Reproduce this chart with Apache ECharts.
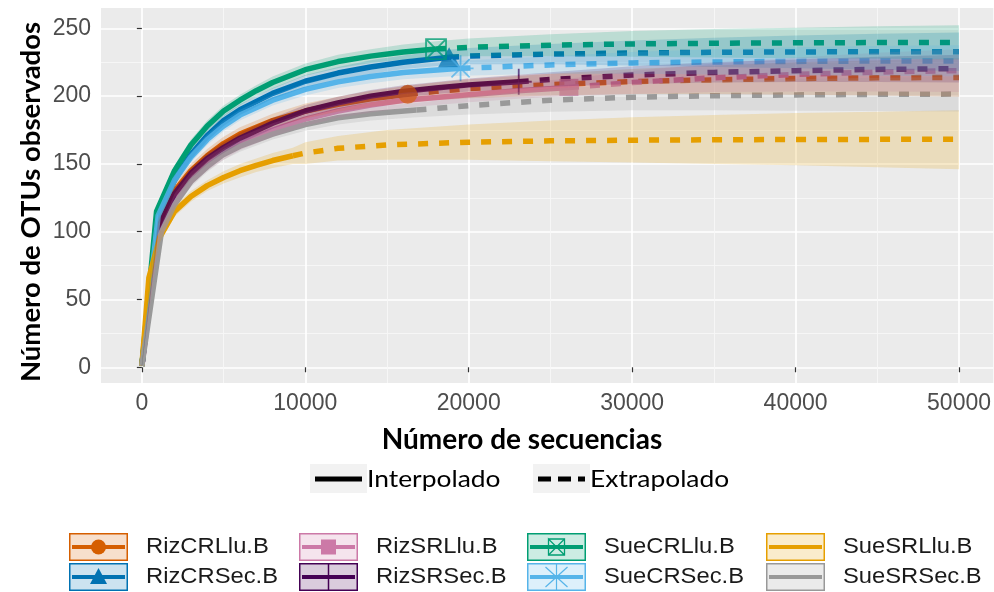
<!DOCTYPE html>
<html><head><meta charset="utf-8">
<script src="https://cdn.jsdelivr.net/npm/echarts@6/dist/echarts.min.js"></script>
<style>html,body{margin:0;padding:0;background:#fff}#c{width:994px;height:592px}</style>
</head><body><div id="c"></div>
<script>
// ---- tick values ----
const xMajorTicks = [0, 10000, 20000, 30000, 40000, 50000];
const xMinorTicks = [5000, 15000, 25000, 35000, 45000];
const yMajorTicks = [0, 50, 100, 150, 200, 250];
const yMinorTicks = [25, 75, 125, 175, 225];

// ---- RizCRLlu.B ----
const RizCRLlu_x  = [0, 1000, 2000, 3000, 4000, 5000, 6000, 8000, 10000, 12000, 14000, 16270];
const RizCRLlu_y  = [1, 105, 130, 145, 156, 165, 172, 182, 189, 194, 198, 201.3];
const RizCRLlu_ex = [16270, 18000, 20000, 25000, 30000, 35000, 40000, 45000, 50000];
const RizCRLlu_ey = [201.3, 203.5, 205.5, 208.5, 210.7, 212, 213, 213.5, 213.8];
const RizCRLlu_lo = [0, 100, 125, 140, 151, 160, 167, 177, 183.5, 188.5, 192, 195, 197, 198.5, 200.5, 201.5, 201.5, 201, 200.5, 199.5];
const RizCRLlu_hi = [2, 110, 135, 150, 161, 170, 177, 187, 194.5, 199.5, 204, 207.6, 210, 212.5, 216.5, 220, 222.5, 225, 226.5, 228];

// ---- RizCRSec.B ----
const RizCRSec_x  = [0, 1000, 2000, 3000, 4000, 5000, 6000, 8000, 10000, 12000, 14000, 16000, 18800];
const RizCRSec_y  = [1, 110, 138, 157, 171, 182, 190, 202, 211, 217, 221.5, 225, 228.6];
const RizCRSec_ex = [18800, 20000, 25000, 30000, 35000, 40000, 45000, 50000];
const RizCRSec_ey = [228.6, 229.5, 231, 231.8, 232.3, 232.6, 232.7, 232.8];
const RizCRSec_lo = [0, 106, 134, 153, 167, 178, 186, 198, 206.5, 212.5, 216.5, 220, 223, 223.5, 223.5, 222.5, 221.5, 220.5, 219.5, 218.5];
const RizCRSec_hi = [2, 114, 142, 161, 175, 186, 194, 206, 215.5, 221.5, 226.5, 230, 234.2, 235.5, 238.5, 241, 243, 244.7, 246, 247];

// ---- RizSRLlu.B ----
const RizSRLlu_x  = [0, 1000, 2000, 3000, 4000, 5000, 6000, 8000, 10000, 12000, 14000, 16000, 18000, 20000, 23000, 26130];
const RizSRLlu_y  = [1, 95, 123, 139, 150, 158, 165, 175, 183, 189, 193.5, 197, 199, 201, 204, 206.4];
const RizSRLlu_ex = [26130, 30000, 35000, 40000, 45000, 50000];
const RizSRLlu_ey = [206.4, 210, 213.5, 216, 217.8, 218.8];
const RizSRLlu_lo = [0, 90, 118, 134, 145, 153, 160, 170, 178, 184, 188, 191.5, 193.5, 195.5, 198, 200, 201.5, 203, 203.5, 203.5, 203];
const RizSRLlu_hi = [2, 100, 128, 144, 155, 163, 170, 180, 188, 194, 199, 202.5, 204.5, 206.5, 210, 212.8, 218.5, 224, 228.5, 232, 234.5];

// ---- RizSRSec.B ----
const RizSRSec_x  = [0, 1000, 2000, 3000, 4000, 5000, 6000, 8000, 10000, 12000, 14000, 16000, 18000, 20000, 23060];
const RizSRSec_y  = [1, 103, 128, 143, 154, 162, 169, 180, 189, 195, 200, 203.5, 206, 208.3, 210.6];
const RizSRSec_ex = [23060, 25000, 30000, 35000, 40000, 45000, 50000];
const RizSRSec_ey = [210.6, 212.3, 215.5, 217.5, 218.8, 219.7, 220.3];
const RizSRSec_lo = [0, 99, 124, 139, 150, 158, 165, 176, 184.5, 190.5, 195.5, 199, 201.5, 203.5, 205.5, 207, 209, 210, 210.5, 210.5, 210];
const RizSRSec_hi = [2, 107, 132, 147, 158, 166, 173, 184, 193.5, 199.5, 204.5, 208, 210.5, 213, 215.7, 217.6, 222, 225, 227, 229, 230.6];

// ---- SueCRLlu.B ----
const SueCRLlu_x  = [0, 900, 2000, 3000, 4000, 5000, 6000, 7000, 8000, 10000, 12000, 14000, 16000, 18000];
const SueCRLlu_y  = [1, 115, 145, 164, 178, 189, 197, 204, 210, 219.5, 225.5, 229.5, 232.5, 234.7];
const SueCRLlu_ex = [18000, 20000, 25000, 30000, 35000, 40000, 45000, 50000];
const SueCRLlu_ey = [234.7, 236, 237.6, 238.5, 239, 239.3, 239.5, 239.6];
const SueCRLlu_lo = [0, 111, 141, 160, 174, 185, 193, 200, 205.5, 215, 220.5, 224.5, 227, 229, 229.5, 229.5, 229, 228.5, 228, 227.5, 227];
const SueCRLlu_hi = [2, 119, 149, 168, 182, 193, 201, 208, 214.5, 224, 230.5, 234.5, 238, 240.5, 242.5, 245.7, 248, 249.5, 250.5, 251.5, 252.2];

// ---- SueCRSec.B ----
const SueCRSec_x  = [0, 1000, 2000, 3000, 4000, 5000, 6000, 8000, 10000, 12000, 14000, 16000, 19500];
const SueCRSec_y  = [1, 112, 138, 155, 168, 178, 186, 197, 205, 210.5, 214.5, 217.5, 220.5];
const SueCRSec_ex = [19500, 25000, 30000, 35000, 40000, 45000, 50000];
const SueCRSec_ey = [220.5, 223, 224.5, 225.2, 225.6, 225.9, 226];
const SueCRSec_lo = [0, 108, 134, 151, 164, 174, 182, 193, 200.5, 206, 209.5, 212.5, 215, 216.5, 216.5, 216, 215.5, 215, 214.5];
const SueCRSec_hi = [2, 116, 142, 159, 172, 182, 190, 201, 209.5, 215, 219.5, 222.5, 226, 229.5, 232.5, 234.5, 236, 237, 237.5];

// ---- SueSRLlu.B ----
const SueSRLlu_x  = [0, 430, 1100, 2000, 3000, 4000, 5000, 6000, 7000, 8000, 9240];
const SueSRLlu_y  = [1, 66, 96, 115, 126, 134, 140, 145, 149, 152.5, 156];
const SueSRLlu_ex = [9240, 10000, 12000, 15000, 20000, 25000, 30000, 35000, 40000, 45000, 50000];
const SueSRLlu_ey = [156, 158, 161.5, 164, 166, 167, 167.5, 167.8, 168, 168.1, 168.2];
const SueSRLlu_lo = [0, 62, 92, 111, 122, 130, 135.5, 140, 144, 147, 150, 150, 152.5, 153, 153, 152, 151, 150, 149, 147.5, 146];
const SueSRLlu_hi = [2, 70, 100, 119, 130, 138, 144.5, 150, 154, 158, 162, 166, 170.5, 175, 179, 182, 184.5, 186, 187.5, 188.5, 189.5];

// ---- SueSRSec.B ----
const SueSRSec_x  = [0, 1200, 2000, 3000, 4000, 5000, 6000, 8000, 10000, 12000, 14000, 16800];
const SueSRSec_y  = [1, 100, 120, 137, 148, 157, 163, 172, 179, 184, 187, 189.7];
const SueSRSec_ex = [16800, 20000, 25000, 30000, 35000, 40000, 45000, 50000];
const SueSRSec_ey = [189.7, 193, 197, 199.2, 200.3, 200.9, 201.3, 201.5];
const SueSRSec_lo = [0, 96, 116, 133, 144, 153, 159, 168, 174.5, 179, 182, 184.5, 186.5, 188.5, 189.5, 189.5, 189.3, 189, 188.7];
const SueSRSec_hi = [2, 104, 124, 141, 152, 161, 167, 176, 183.5, 189, 192, 195, 199.5, 205.5, 209, 211, 212.5, 213.5, 214.3];

const siteNames = ['RizCRLlu.B', 'RizCRSec.B', 'RizSRLlu.B', 'RizSRSec.B', 'SueCRLlu.B', 'SueCRSec.B', 'SueSRLlu.B', 'SueSRSec.B'];

// ---- styles ----
const PATH_PLUS = 'path://M10,0 L10,20 M0,10 L20,10';
const PATH_BOXX = 'path://M0,0 L20,0 L20,20 L0,20 Z M0,0 L20,20 M20,0 L0,20';
const PATH_AST  = 'path://M10,0 L10,20 M0,10 L20,10 M3,3 L17,17 M17,3 L3,17';

const groups = [
  {x: RizCRLlu_x, y: RizCRLlu_y, ex: RizCRLlu_ex, ey: RizCRLlu_ey, lo: RizCRLlu_lo, hi: RizCRLlu_hi, color: '#D55E00', symbol: 'circle', size: 19, filled: true},
  {x: RizCRSec_x, y: RizCRSec_y, ex: RizCRSec_ex, ey: RizCRSec_ey, lo: RizCRSec_lo, hi: RizCRSec_hi, color: '#0072B2', symbol: 'triangle', size: [22, 20], filled: true},
  {x: RizSRLlu_x, y: RizSRLlu_y, ex: RizSRLlu_ex, ey: RizSRLlu_ey, lo: RizSRLlu_lo, hi: RizSRLlu_hi, color: '#CC79A7', symbol: 'rect', size: [19, 17], filled: true},
  {x: RizSRSec_x, y: RizSRSec_y, ex: RizSRSec_ex, ey: RizSRSec_ey, lo: RizSRSec_lo, hi: RizSRSec_hi, color: '#440154', symbol: PATH_PLUS, size: 26, filled: false},
  {x: SueCRLlu_x, y: SueCRLlu_y, ex: SueCRLlu_ex, ey: SueCRLlu_ey, lo: SueCRLlu_lo, hi: SueCRLlu_hi, color: '#009E73', symbol: PATH_BOXX, size: 20, filled: false},
  {x: SueCRSec_x, y: SueCRSec_y, ex: SueCRSec_ex, ey: SueCRSec_ey, lo: SueCRSec_lo, hi: SueCRSec_hi, color: '#56B4E9', symbol: PATH_AST, size: 26, filled: false},
  {x: SueSRLlu_x, y: SueSRLlu_y, ex: SueSRLlu_ex, ey: SueSRLlu_ey, lo: SueSRLlu_lo, hi: SueSRLlu_hi, color: '#E69F00', symbol: 'none', size: 0, filled: true},
  {x: SueSRSec_x, y: SueSRSec_y, ex: SueSRSec_ex, ey: SueSRSec_ey, lo: SueSRSec_lo, hi: SueSRSec_hi, color: '#999999', symbol: 'none', size: 0, filled: true}
];

function hexA(hex, a) {
  const n = parseInt(hex.slice(1), 16);
  return 'rgba(' + (n >> 16 & 255) + ',' + (n >> 8 & 255) + ',' + (n & 255) + ',' + a + ')';
}
const zip = (a, b) => a.map((v, i) => [v, b[i]]);

const series = [];
groups.forEach((g, k) => {
  const name = siteNames[k];
  series.push({
    name: name, type: 'line', data: zip(g.x, g.y), showSymbol: false, symbol: 'none',
    lineStyle: {color: g.color, width: 5.5, type: 'solid'}, itemStyle: {color: g.color}, z: 2, silent: true
  });
  series.push({
    name: name, type: 'line', data: zip(g.ex, g.ey), showSymbol: false, symbol: 'none',
    lineStyle: {color: g.color, width: 5.5, type: [10, 11]}, itemStyle: {color: g.color}, z: 2, silent: true
  });
});
groups.forEach((g, k) => {
  if (g.symbol === 'none') return;
  const last = g.x.length - 1;
  series.push({
    name: siteNames[k], type: 'scatter', data: [[g.x[last], g.y[last]]],
    symbol: g.symbol, symbolSize: g.size, z: 3, silent: true,
    itemStyle: g.filled ? {color: g.color} : {color: 'rgba(0,0,0,0)', borderColor: g.color, borderWidth: 1.8}
  });
});
groups.forEach((g, k) => {
  const bx = g.x.concat(g.ex.slice(1));
  series.push({
    name: siteNames[k], type: 'custom', data: [[bx[0], g.lo[0]]], z: 4, silent: true, clip: true,
    renderItem: function (params, api) {
      const pts = [];
      for (let i = 0; i < bx.length; i++) pts.push(api.coord([bx[i], g.hi[i]]));
      for (let i = bx.length - 1; i >= 0; i--) pts.push(api.coord([bx[i], g.lo[i]]));
      return {type: 'polygon', shape: {points: pts}, style: {fill: hexA(g.color, 0.2), stroke: null}};
    }
  });
});

// ---- titles and legends (layout only) ----
const graphics = [];
const TXT = '#000';
graphics.push({type: 'text', x: 522, y: 440, style: {text: 'Número de secuencias', fontFamily: 'Lato', fontWeight: 'bold', fontSize: 28, fill: TXT, textAlign: 'center', textVerticalAlign: 'middle'}});
graphics.push({type: 'text', x: 31, y: 202, rotation: Math.PI / 2, style: {text: 'Número de OTUs observados', fontFamily: 'Lato', fontWeight: 'bold', fontSize: 27.5, fill: TXT, textAlign: 'center', textVerticalAlign: 'middle'}});
// line type legend
const ltKeys = [{x: 310, label: 'Interpolado', dash: 'solid'}, {x: 533, label: 'Extrapolado', dash: [13, 7]}];
ltKeys.forEach(k => {
  graphics.push({type: 'rect', shape: {x: k.x, y: 464, width: 57, height: 29}, style: {fill: '#F2F2F2'}});
  graphics.push({type: 'line', shape: {x1: k.x + 5, y1: 479, x2: k.x + 52, y2: 479}, style: {stroke: '#000', lineWidth: 5, lineDash: k.dash === 'solid' ? null : k.dash}});
  graphics.push({type: 'text', x: k.x + 57, y: 479, scaleX: 1.1, style: {text: k.label, fontFamily: 'Lato', fontSize: 24, fill: TXT, textVerticalAlign: 'middle'}});
});
// site legend
const colX = [69, 299, 527, 766];
const rowY = [533, 563];
groups.forEach((g, k) => {
  const col = Math.floor(k / 2), row = k % 2;
  const x = colX[col], y = rowY[row];
  const cx = x + 29.5, cy = y + 14;
  graphics.push({type: 'rect', shape: {x: x + 0.75, y: y + 0.75, width: 57.5, height: 26.5}, style: {fill: hexA(g.color, 0.2), stroke: g.color, lineWidth: 1.5}, z: 10});
  graphics.push({type: 'line', shape: {x1: x + 3, y1: cy, x2: x + 56, y2: cy}, style: {stroke: g.color, lineWidth: 4}, z: 11});
  if (g.symbol === 'circle') {
    graphics.push({type: 'circle', shape: {cx: cx, cy: cy, r: 7.5}, style: {fill: g.color}, z: 12});
  } else if (g.symbol === 'triangle') {
    graphics.push({type: 'polygon', shape: {points: [[cx, cy - 9], [cx + 8.5, cy + 7], [cx - 8.5, cy + 7]]}, style: {fill: g.color}, z: 12});
  } else if (g.symbol === 'rect') {
    graphics.push({type: 'rect', shape: {x: cx - 7.5, y: cy - 7.5, width: 15, height: 15}, style: {fill: g.color}, z: 12});
  } else if (g.symbol === PATH_PLUS) {
    graphics.push({type: 'line', shape: {x1: cx, y1: y + 1, x2: cx, y2: y + 27}, style: {stroke: g.color, lineWidth: 1.5}, z: 12});
  } else if (g.symbol === PATH_BOXX) {
    graphics.push({type: 'polyline', shape: {points: [[cx - 8, cy - 8], [cx + 8, cy - 8], [cx + 8, cy + 8], [cx - 8, cy + 8], [cx - 8, cy - 8], [cx + 8, cy + 8]]}, style: {stroke: g.color, lineWidth: 1.3, fill: null}, z: 12});
    graphics.push({type: 'line', shape: {x1: cx + 8, y1: cy - 8, x2: cx - 8, y2: cy + 8}, style: {stroke: g.color, lineWidth: 1.3}, z: 12});
  } else if (g.symbol === PATH_AST) {
    graphics.push({type: 'line', shape: {x1: cx, y1: y + 1, x2: cx, y2: y + 27}, style: {stroke: g.color, lineWidth: 1.2}, z: 12});
    graphics.push({type: 'line', shape: {x1: cx - 11, y1: cy - 10, x2: cx + 11, y2: cy + 10}, style: {stroke: g.color, lineWidth: 1.2}, z: 12});
    graphics.push({type: 'line', shape: {x1: cx + 11, y1: cy - 10, x2: cx - 11, y2: cy + 10}, style: {stroke: g.color, lineWidth: 1.2}, z: 12});
  }
  graphics.push({type: 'text', x: x + 77, y: cy, scaleX: 1.08, style: {text: siteNames[k], fontFamily: 'Liberation Sans', fontSize: 22, fill: '#1A1A1A', textVerticalAlign: 'middle'}, z: 12});
});

const tickLabel = {color: '#4D4D4D', fontSize: 23, fontFamily: 'Liberation Sans', formatter: v => String(v)};
const chart = echarts.init(document.getElementById('c'), null, {renderer: 'canvas'});
chart.setOption({
  animation: false,
  backgroundColor: '#fff',
  grid: {left: 101, top: 8, right: 0, bottom: 209, show: true, backgroundColor: '#EBEBEB', borderWidth: 0},
  xAxis: [
    {type: 'value', min: -2500, max: 52100, axisLine: {show: false},
     axisTick: {show: true, length: 5, lineStyle: {color: '#333', width: 1.2}, customValues: xMajorTicks},
     axisLabel: Object.assign({customValues: xMajorTicks, margin: 9}, tickLabel),
     splitLine: {show: true, lineStyle: {color: '#fff', width: 1.7}}},
    {type: 'value', min: -2500, max: 52100, axisLine: {show: false},
     axisTick: {show: false, customValues: xMinorTicks}, axisLabel: {show: false},
     splitLine: {show: true, lineStyle: {color: '#F7F7F7', width: 0.9}}}
  ],
  yAxis: [
    {type: 'value', min: -11.6, max: 265, axisLine: {show: false},
     axisTick: {show: true, length: 5, lineStyle: {color: '#333', width: 1.2}, customValues: yMajorTicks},
     axisLabel: Object.assign({customValues: yMajorTicks, margin: 10}, tickLabel),
     splitLine: {show: true, lineStyle: {color: '#fff', width: 1.7}}},
    {type: 'value', min: -11.6, max: 265, axisLine: {show: false},
     axisTick: {show: false, customValues: yMinorTicks}, axisLabel: {show: false},
     splitLine: {show: true, lineStyle: {color: '#F7F7F7', width: 0.9}}}
  ],
  series: series,
  graphic: graphics
});
</script></body></html>
